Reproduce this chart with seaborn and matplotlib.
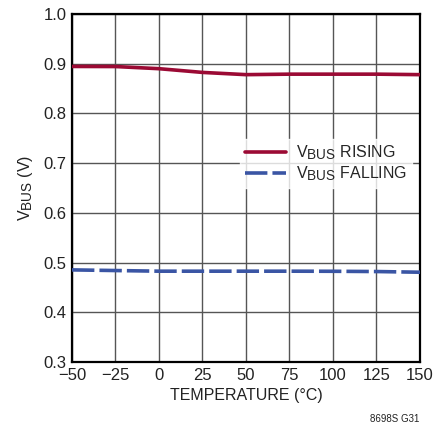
import pandas as pd
import seaborn as sns
import matplotlib.pyplot as plt
import matplotlib._mathtext as mt

# data
temp = [-50, -25, 0, 25, 50, 75, 100, 125, 150]
vbus_rising = [0.8945, 0.8943, 0.890, 0.8825, 0.878, 0.879, 0.879, 0.879, 0.878]
vbus_falling = [0.4853, 0.484, 0.4827, 0.4827, 0.4827, 0.4827, 0.4825, 0.482, 0.4806]

x_ticks = [-50, -25, 0, 25, 50, 75, 100, 125, 150]
x_labels = ['\u221250', '\u221225', '0', '25', '50', '75', '100', '125', '150']
y_ticks = [0.3, 0.4, 0.5, 0.6, 0.7, 0.8, 0.9, 1.0]

sns.set_style('white')
plt.rcParams['font.family'] = ['Liberation Sans', 'DejaVu Sans']
plt.rcParams['mathtext.fontset'] = 'custom'
plt.rcParams['mathtext.rm'] = 'Liberation Sans'
# subscripts in the reference are nearly full size
mt.SHRINK_FACTOR = 0.85

fig = plt.figure(figsize=(4.35, 4.32), dpi=100)
ax = fig.add_axes([0.1655, 0.162, 0.80, 0.8056])

rise = pd.DataFrame({'T': temp, 'V': vbus_rising})
fall = pd.DataFrame({'T': temp, 'V': vbus_falling})

sns.lineplot(data=rise, x='T', y='V', ax=ax, color='#9b0a34', linewidth=2.6,
             label=r'V$_{\mathregular{BUS}}$ RISING', zorder=3)
sns.lineplot(data=fall, x='T', y='V', ax=ax, color='#3a55a4', linewidth=2.6,
             label=r'V$_{\mathregular{BUS}}$ FALLING', zorder=3)
ax.lines[1].set_dashes([6.2, 1.4])

ax.set_xlim(-50, 150)
ax.set_ylim(0.3, 1.0)
ax.set_xticks(x_ticks)
ax.set_xticklabels(x_labels)
ax.set_yticks(y_ticks)
ax.set_yticklabels([f'{v:.1f}' for v in y_ticks])
ax.tick_params(labelsize=12, length=0, pad=4, colors='#222222')
ax.grid(True, color='#555555', linewidth=1.0)
for s in ax.spines.values():
    s.set_color('black')
    s.set_linewidth(1.6)

ax.set_xlabel('TEMPERATURE (\u00b0C)', fontsize=11.5, color='#222222', labelpad=4)
ax.set_ylabel(r'V$_{\mathregular{BUS}}$ (V)', fontsize=11.5, color='#222222', labelpad=6)

leg = ax.legend(loc='upper right', bbox_to_anchor=(1.0, 0.665), frameon=True,
                fontsize=11.5, handlelength=2.6, handletextpad=0.6,
                labelspacing=0.15, borderpad=0.3, fancybox=False)
leg.get_frame().set_facecolor('white')
leg.get_frame().set_edgecolor('white')

fig.text(0.965, 0.018, '8698S G31', fontsize=7, ha='right', va='bottom', color='#222222')

plt.savefig('out.png', dpi=100)
